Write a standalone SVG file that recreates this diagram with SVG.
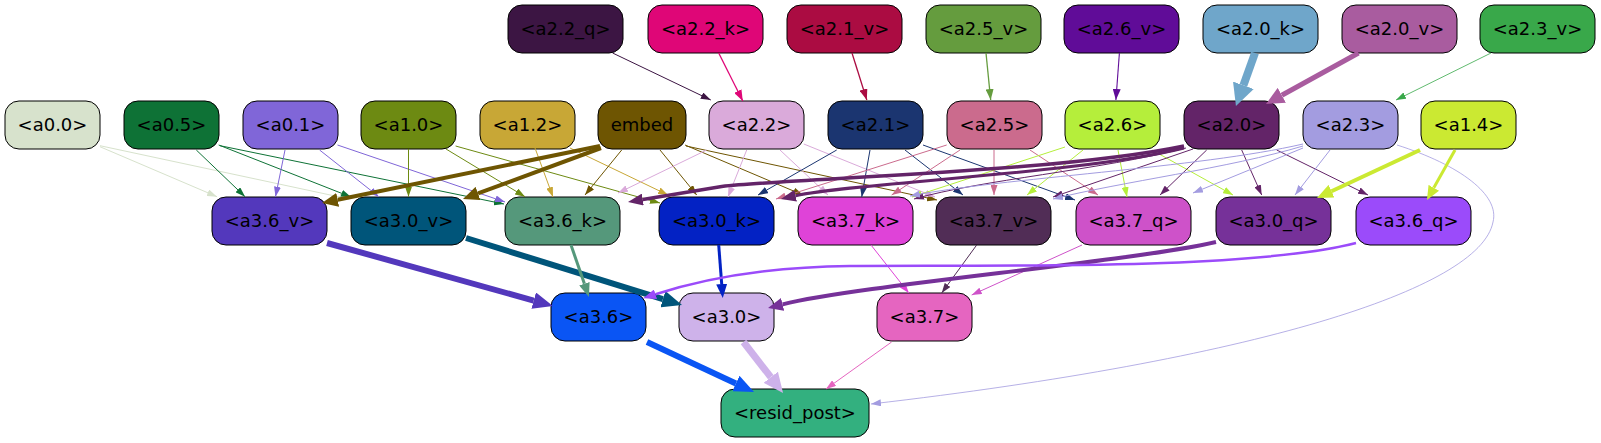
<svg xmlns="http://www.w3.org/2000/svg" width="1601" height="443" viewBox="0 0 1601 443">
<style>
.n rect{stroke:#000;stroke-width:1}
.n text{font-family:"DejaVu Sans","Liberation Sans",sans-serif;font-size:18px;text-anchor:middle;fill:#000}
#edges path{fill:none}
</style>
<defs>
<marker id="t-q22" viewBox="0 0 10 10" preserveAspectRatio="none" refX="10" refY="5" markerWidth="10" markerHeight="7" markerUnits="userSpaceOnUse" orient="auto"><path d="M0,0L10,5L0,10z" fill="#3c1543"/></marker>
<marker id="t-k22" viewBox="0 0 10 10" preserveAspectRatio="none" refX="10" refY="5" markerWidth="11" markerHeight="8" markerUnits="userSpaceOnUse" orient="auto"><path d="M0,0L10,5L0,10z" fill="#df0677"/></marker>
<marker id="t-v21" viewBox="0 0 10 10" preserveAspectRatio="none" refX="10" refY="5" markerWidth="11" markerHeight="8" markerUnits="userSpaceOnUse" orient="auto"><path d="M0,0L10,5L0,10z" fill="#ab0c42"/></marker>
<marker id="t-v25" viewBox="0 0 10 10" preserveAspectRatio="none" refX="10" refY="5" markerWidth="11" markerHeight="8" markerUnits="userSpaceOnUse" orient="auto"><path d="M0,0L10,5L0,10z" fill="#659c3e"/></marker>
<marker id="t-v26" viewBox="0 0 10 10" preserveAspectRatio="none" refX="10" refY="5" markerWidth="11" markerHeight="8" markerUnits="userSpaceOnUse" orient="auto"><path d="M0,0L10,5L0,10z" fill="#600c98"/></marker>
<marker id="t-v23" viewBox="0 0 10 10" preserveAspectRatio="none" refX="10" refY="5" markerWidth="10" markerHeight="7" markerUnits="userSpaceOnUse" orient="auto"><path d="M0,0L10,5L0,10z" fill="#39a84a"/></marker>
<marker id="t-00" viewBox="0 0 10 10" preserveAspectRatio="none" refX="10" refY="5" markerWidth="10" markerHeight="7" markerUnits="userSpaceOnUse" orient="auto"><path d="M0,0L10,5L0,10z" fill="#d7e2cc"/></marker>
<marker id="t-05" viewBox="0 0 10 10" preserveAspectRatio="none" refX="10" refY="5" markerWidth="10" markerHeight="7" markerUnits="userSpaceOnUse" orient="auto"><path d="M0,0L10,5L0,10z" fill="#0e7236"/></marker>
<marker id="t-01" viewBox="0 0 10 10" preserveAspectRatio="none" refX="10" refY="5" markerWidth="10" markerHeight="7" markerUnits="userSpaceOnUse" orient="auto"><path d="M0,0L10,5L0,10z" fill="#8066d8"/></marker>
<marker id="t-10" viewBox="0 0 10 10" preserveAspectRatio="none" refX="10" refY="5" markerWidth="10" markerHeight="7" markerUnits="userSpaceOnUse" orient="auto"><path d="M0,0L10,5L0,10z" fill="#6d8a12"/></marker>
<marker id="t-12" viewBox="0 0 10 10" preserveAspectRatio="none" refX="10" refY="5" markerWidth="10" markerHeight="7" markerUnits="userSpaceOnUse" orient="auto"><path d="M0,0L10,5L0,10z" fill="#c8a736"/></marker>
<marker id="t-emb" viewBox="0 0 10 10" preserveAspectRatio="none" refX="10" refY="5" markerWidth="10" markerHeight="7" markerUnits="userSpaceOnUse" orient="auto"><path d="M0,0L10,5L0,10z" fill="#6e5502"/></marker>
<marker id="t-22" viewBox="0 0 10 10" preserveAspectRatio="none" refX="10" refY="5" markerWidth="10" markerHeight="7" markerUnits="userSpaceOnUse" orient="auto"><path d="M0,0L10,5L0,10z" fill="#daaada"/></marker>
<marker id="t-21" viewBox="0 0 10 10" preserveAspectRatio="none" refX="10" refY="5" markerWidth="10" markerHeight="7" markerUnits="userSpaceOnUse" orient="auto"><path d="M0,0L10,5L0,10z" fill="#1b3570"/></marker>
<marker id="t-25" viewBox="0 0 10 10" preserveAspectRatio="none" refX="10" refY="5" markerWidth="10" markerHeight="7" markerUnits="userSpaceOnUse" orient="auto"><path d="M0,0L10,5L0,10z" fill="#cb6b8d"/></marker>
<marker id="t-26" viewBox="0 0 10 10" preserveAspectRatio="none" refX="10" refY="5" markerWidth="10" markerHeight="7" markerUnits="userSpaceOnUse" orient="auto"><path d="M0,0L10,5L0,10z" fill="#b5ee3b"/></marker>
<marker id="t-20" viewBox="0 0 10 10" preserveAspectRatio="none" refX="10" refY="5" markerWidth="10" markerHeight="7" markerUnits="userSpaceOnUse" orient="auto"><path d="M0,0L10,5L0,10z" fill="#632468"/></marker>
<marker id="t-23" viewBox="0 0 10 10" preserveAspectRatio="none" refX="10" refY="5" markerWidth="10" markerHeight="7" markerUnits="userSpaceOnUse" orient="auto"><path d="M0,0L10,5L0,10z" fill="#a39ce0"/></marker>
<marker id="t-37k" viewBox="0 0 10 10" preserveAspectRatio="none" refX="10" refY="5" markerWidth="10" markerHeight="7" markerUnits="userSpaceOnUse" orient="auto"><path d="M0,0L10,5L0,10z" fill="#df43d8"/></marker>
<marker id="t-37v" viewBox="0 0 10 10" preserveAspectRatio="none" refX="10" refY="5" markerWidth="10" markerHeight="7" markerUnits="userSpaceOnUse" orient="auto"><path d="M0,0L10,5L0,10z" fill="#512d56"/></marker>
<marker id="t-37q" viewBox="0 0 10 10" preserveAspectRatio="none" refX="10" refY="5" markerWidth="10" markerHeight="7" markerUnits="userSpaceOnUse" orient="auto"><path d="M0,0L10,5L0,10z" fill="#ce52c9"/></marker>
<marker id="t-37" viewBox="0 0 10 10" preserveAspectRatio="none" refX="10" refY="5" markerWidth="10" markerHeight="7" markerUnits="userSpaceOnUse" orient="auto"><path d="M0,0L10,5L0,10z" fill="#e565c0"/></marker>
<marker id="b-k20" viewBox="0 0 10 10" preserveAspectRatio="none" refX="0" refY="5" markerWidth="22" markerHeight="22" markerUnits="userSpaceOnUse" orient="auto"><path d="M0,0L10,5L0,10z" fill="#6fa6ca"/></marker>
<marker id="b-v20" viewBox="0 0 10 10" preserveAspectRatio="none" refX="0" refY="5" markerWidth="18" markerHeight="17" markerUnits="userSpaceOnUse" orient="auto"><path d="M0,0L10,5L0,10z" fill="#a95c9f"/></marker>
<marker id="b-emb" viewBox="0 0 10 10" preserveAspectRatio="none" refX="0" refY="5" markerWidth="16" markerHeight="14" markerUnits="userSpaceOnUse" orient="auto"><path d="M0,0L10,5L0,10z" fill="#6e5502"/></marker>
<marker id="b-20" viewBox="0 0 10 10" preserveAspectRatio="none" refX="0" refY="5" markerWidth="15" markerHeight="12" markerUnits="userSpaceOnUse" orient="auto"><path d="M0,0L10,5L0,10z" fill="#632468"/></marker>
<marker id="b-14a" viewBox="0 0 10 10" preserveAspectRatio="none" refX="0" refY="5" markerWidth="16" markerHeight="14" markerUnits="userSpaceOnUse" orient="auto"><path d="M0,0L10,5L0,10z" fill="#cbe932"/></marker>
<marker id="b-14b" viewBox="0 0 10 10" preserveAspectRatio="none" refX="0" refY="5" markerWidth="14" markerHeight="12" markerUnits="userSpaceOnUse" orient="auto"><path d="M0,0L10,5L0,10z" fill="#cbe932"/></marker>
<marker id="b-36v" viewBox="0 0 10 10" preserveAspectRatio="none" refX="0" refY="5" markerWidth="20" markerHeight="17" markerUnits="userSpaceOnUse" orient="auto"><path d="M0,0L10,5L0,10z" fill="#5338bc"/></marker>
<marker id="b-30v" viewBox="0 0 10 10" preserveAspectRatio="none" refX="0" refY="5" markerWidth="20" markerHeight="17" markerUnits="userSpaceOnUse" orient="auto"><path d="M0,0L10,5L0,10z" fill="#00557a"/></marker>
<marker id="b-36k" viewBox="0 0 10 10" preserveAspectRatio="none" refX="0" refY="5" markerWidth="14" markerHeight="11" markerUnits="userSpaceOnUse" orient="auto"><path d="M0,0L10,5L0,10z" fill="#55987b"/></marker>
<marker id="b-30k" viewBox="0 0 10 10" preserveAspectRatio="none" refX="0" refY="5" markerWidth="14" markerHeight="11" markerUnits="userSpaceOnUse" orient="auto"><path d="M0,0L10,5L0,10z" fill="#0322c4"/></marker>
<marker id="b-30q" viewBox="0 0 10 10" preserveAspectRatio="none" refX="0" refY="5" markerWidth="15" markerHeight="13" markerUnits="userSpaceOnUse" orient="auto"><path d="M0,0L10,5L0,10z" fill="#763199"/></marker>
<marker id="b-36q" viewBox="0 0 10 10" preserveAspectRatio="none" refX="0" refY="5" markerWidth="13" markerHeight="10" markerUnits="userSpaceOnUse" orient="auto"><path d="M0,0L10,5L0,10z" fill="#9b4bfa"/></marker>
<marker id="b-36" viewBox="0 0 10 10" preserveAspectRatio="none" refX="0" refY="5" markerWidth="20" markerHeight="17" markerUnits="userSpaceOnUse" orient="auto"><path d="M0,0L10,5L0,10z" fill="#0a55f4"/></marker>
<marker id="b-30" viewBox="0 0 10 10" preserveAspectRatio="none" refX="0" refY="5" markerWidth="20" markerHeight="18" markerUnits="userSpaceOnUse" orient="auto"><path d="M0,0L10,5L0,10z" fill="#ceb2ea"/></marker>
</defs>
<g id="nodes">
<g id="a2_2_q" class="n"><rect x="508" y="5" width="115" height="48" rx="14" fill="#3c1543"/><text x="565.5" y="35">&lt;a2.2_q&gt;</text></g>
<g id="a2_2_k" class="n"><rect x="648" y="5" width="115" height="48" rx="14" fill="#df0677"/><text x="705.5" y="35">&lt;a2.2_k&gt;</text></g>
<g id="a2_1_v" class="n"><rect x="787" y="5" width="115" height="48" rx="14" fill="#ab0c42"/><text x="844.5" y="35">&lt;a2.1_v&gt;</text></g>
<g id="a2_5_v" class="n"><rect x="926" y="5" width="115" height="48" rx="14" fill="#659c3e"/><text x="983.5" y="35">&lt;a2.5_v&gt;</text></g>
<g id="a2_6_v" class="n"><rect x="1064" y="5" width="115" height="48" rx="14" fill="#600c98"/><text x="1121.5" y="35">&lt;a2.6_v&gt;</text></g>
<g id="a2_0_k" class="n"><rect x="1203" y="5" width="115" height="48" rx="14" fill="#6fa6ca"/><text x="1260.5" y="35">&lt;a2.0_k&gt;</text></g>
<g id="a2_0_v" class="n"><rect x="1342" y="5" width="115" height="48" rx="14" fill="#a95c9f"/><text x="1399.5" y="35">&lt;a2.0_v&gt;</text></g>
<g id="a2_3_v" class="n"><rect x="1480" y="5" width="115" height="48" rx="14" fill="#39a84a"/><text x="1537.5" y="35">&lt;a2.3_v&gt;</text></g>
<g id="a0_0" class="n"><rect x="5" y="101" width="95" height="48" rx="14" fill="#d7e2cc"/><text x="52.5" y="131">&lt;a0.0&gt;</text></g>
<g id="a0_5" class="n"><rect x="124" y="101" width="95" height="48" rx="14" fill="#0e7236"/><text x="171.5" y="131">&lt;a0.5&gt;</text></g>
<g id="a0_1" class="n"><rect x="243" y="101" width="95" height="48" rx="14" fill="#8066d8"/><text x="290.5" y="131">&lt;a0.1&gt;</text></g>
<g id="a1_0" class="n"><rect x="361" y="101" width="95" height="48" rx="14" fill="#6d8a12"/><text x="408.5" y="131">&lt;a1.0&gt;</text></g>
<g id="a1_2" class="n"><rect x="480" y="101" width="95" height="48" rx="14" fill="#c8a736"/><text x="527.5" y="131">&lt;a1.2&gt;</text></g>
<g id="embed" class="n"><rect x="598" y="101" width="88" height="48" rx="14" fill="#6e5502"/><text x="642" y="131">embed</text></g>
<g id="a2_2" class="n"><rect x="709" y="101" width="95" height="48" rx="14" fill="#daaada"/><text x="756.5" y="131">&lt;a2.2&gt;</text></g>
<g id="a2_1" class="n"><rect x="828" y="101" width="95" height="48" rx="14" fill="#1b3570"/><text x="875.5" y="131">&lt;a2.1&gt;</text></g>
<g id="a2_5" class="n"><rect x="947" y="101" width="95" height="48" rx="14" fill="#cb6b8d"/><text x="994.5" y="131">&lt;a2.5&gt;</text></g>
<g id="a2_6" class="n"><rect x="1065" y="101" width="95" height="48" rx="14" fill="#b5ee3b"/><text x="1112.5" y="131">&lt;a2.6&gt;</text></g>
<g id="a2_0" class="n"><rect x="1184" y="101" width="95" height="48" rx="14" fill="#632468"/><text x="1231.5" y="131">&lt;a2.0&gt;</text></g>
<g id="a2_3" class="n"><rect x="1303" y="101" width="95" height="48" rx="14" fill="#a39ce0"/><text x="1350.5" y="131">&lt;a2.3&gt;</text></g>
<g id="a1_4" class="n"><rect x="1421" y="101" width="95" height="48" rx="14" fill="#cbe932"/><text x="1468.5" y="131">&lt;a1.4&gt;</text></g>
<g id="a3_6_v" class="n"><rect x="212" y="197" width="115" height="48" rx="14" fill="#5338bc"/><text x="269.5" y="227">&lt;a3.6_v&gt;</text></g>
<g id="a3_0_v" class="n"><rect x="351" y="197" width="115" height="48" rx="14" fill="#00557a"/><text x="408.5" y="227">&lt;a3.0_v&gt;</text></g>
<g id="a3_6_k" class="n"><rect x="505" y="197" width="115" height="48" rx="14" fill="#55987b"/><text x="562.5" y="227">&lt;a3.6_k&gt;</text></g>
<g id="a3_0_k" class="n"><rect x="659" y="197" width="115" height="48" rx="14" fill="#0322c4"/><text x="716.5" y="227">&lt;a3.0_k&gt;</text></g>
<g id="a3_7_k" class="n"><rect x="798" y="197" width="115" height="48" rx="14" fill="#df43d8"/><text x="855.5" y="227">&lt;a3.7_k&gt;</text></g>
<g id="a3_7_v" class="n"><rect x="936" y="197" width="115" height="48" rx="14" fill="#512d56"/><text x="993.5" y="227">&lt;a3.7_v&gt;</text></g>
<g id="a3_7_q" class="n"><rect x="1076" y="197" width="115" height="48" rx="14" fill="#ce52c9"/><text x="1133.5" y="227">&lt;a3.7_q&gt;</text></g>
<g id="a3_0_q" class="n"><rect x="1216" y="197" width="115" height="48" rx="14" fill="#763199"/><text x="1273.5" y="227">&lt;a3.0_q&gt;</text></g>
<g id="a3_6_q" class="n"><rect x="1356" y="197" width="115" height="48" rx="14" fill="#9b4bfa"/><text x="1413.5" y="227">&lt;a3.6_q&gt;</text></g>
<g id="a3_6" class="n"><rect x="551" y="293" width="95" height="48" rx="14" fill="#0a55f4"/><text x="598.5" y="323">&lt;a3.6&gt;</text></g>
<g id="a3_0" class="n"><rect x="679" y="293" width="95" height="48" rx="14" fill="#ceb2ea"/><text x="726.5" y="323">&lt;a3.0&gt;</text></g>
<g id="a3_7" class="n"><rect x="877" y="293" width="95" height="48" rx="14" fill="#e565c0"/><text x="924.5" y="323">&lt;a3.7&gt;</text></g>
<g id="resid_post" class="n"><rect x="721" y="389" width="148" height="48" rx="14" fill="#33b07f"/><text x="795" y="419">&lt;resid_post&gt;</text></g>
</g>
<g id="edges">
<path d="M612.6,53L710.8,100" stroke="#3c1543" marker-end="url(#t-q22)"/>
<path d="M718.7,53L742.8,101" stroke="#df0677" stroke-width="1.3" marker-end="url(#t-k22)"/>
<path d="M852,53L866.8,100" stroke="#ab0c42" stroke-width="1.3" marker-end="url(#t-v21)"/>
<path d="M986,53L990.7,100" stroke="#659c3e" stroke-width="1.3" marker-end="url(#t-v25)"/>
<path d="M1119.4,53L1115.9,100" stroke="#600c98" stroke-width="1.1" marker-end="url(#t-v26)"/>
<path d="M1255,53L1243.4,85.3" stroke="#6fa6ca" stroke-width="8" marker-end="url(#b-k20)"/>
<path d="M1358.5,53L1281.8,95.3" stroke="#a95c9f" stroke-width="5" marker-end="url(#b-v20)"/>
<path d="M1491,53L1396,100" stroke="#39a84a" stroke-width="0.8" marker-end="url(#t-v23)"/>
<path d="M99.9,146.7L217,196.7" stroke="#d7e2cc" marker-end="url(#t-00)"/>
<path d="M100,145.7L349,199" stroke="#d7e2cc" marker-end="url(#t-00)"/>
<path d="M196.3,150L245,196.7" stroke="#0e7236" marker-end="url(#t-05)"/>
<path d="M218.7,145L351,197" stroke="#0e7236" marker-end="url(#t-05)"/>
<path d="M220,145.7L504,204" stroke="#0e7236" marker-end="url(#t-05)"/>
<path d="M285,150L275.5,196.7" stroke="#8066d8" marker-end="url(#t-01)"/>
<path d="M319.6,150L378.8,196.7" stroke="#8066d8" marker-end="url(#t-01)"/>
<path d="M337.5,145L505,202" stroke="#8066d8" marker-end="url(#t-01)"/>
<path d="M408.5,149L408.5,196.7" stroke="#6d8a12" marker-end="url(#t-10)"/>
<path d="M446,149L525,196.7" stroke="#6d8a12" marker-end="url(#t-10)"/>
<path d="M455.6,146L660,203" stroke="#6d8a12" marker-end="url(#t-10)"/>
<path d="M535,148L553,197" stroke="#c8a736" marker-end="url(#t-12)"/>
<path d="M570,148L668,195" stroke="#c8a736" marker-end="url(#t-12)"/>
<path d="M600,146L337.7,199.8" stroke="#6e5502" stroke-width="4" marker-end="url(#b-emb)"/>
<path d="M601,148L478,193.4" stroke="#6e5502" stroke-width="4" marker-end="url(#b-emb)"/>
<path d="M621.7,150L585,195" stroke="#6e5502" marker-end="url(#t-emb)"/>
<path d="M660,150L696.7,195" stroke="#6e5502" marker-end="url(#t-emb)"/>
<path d="M685,145L803,195" stroke="#6e5502" marker-end="url(#t-emb)"/>
<path d="M686,146L937,200" stroke="#6e5502" marker-end="url(#t-emb)"/>
<path d="M706.7,150L618,193" stroke="#daaada" marker-end="url(#t-22)"/>
<path d="M746.7,150L728,197" stroke="#daaada" marker-end="url(#t-22)"/>
<path d="M780,150L828,195" stroke="#daaada" marker-end="url(#t-22)"/>
<path d="M803.8,144L935,197" stroke="#daaada" marker-end="url(#t-22)"/>
<path d="M836.7,150L758,195" stroke="#1b3570" marker-end="url(#t-21)"/>
<path d="M870,150L861.7,197" stroke="#1b3570" marker-end="url(#t-21)"/>
<path d="M905,150L963,195" stroke="#1b3570" marker-end="url(#t-21)"/>
<path d="M923,145L1075,200" stroke="#1b3570" marker-end="url(#t-21)"/>
<path d="M946.7,145L776,199" stroke="#cb6b8d" marker-end="url(#t-25)"/>
<path d="M960,150L891.7,195" stroke="#cb6b8d" marker-end="url(#t-25)"/>
<path d="M994,150L994,195" stroke="#cb6b8d" marker-end="url(#t-25)"/>
<path d="M1030,150L1098,195" stroke="#cb6b8d" marker-end="url(#t-25)"/>
<path d="M1065,147L912,197" stroke="#b5ee3b" marker-end="url(#t-26)"/>
<path d="M1083,150L1027,195" stroke="#b5ee3b" marker-end="url(#t-26)"/>
<path d="M1118,150L1127,197" stroke="#b5ee3b" marker-end="url(#t-26)"/>
<path d="M1152,150L1233,195" stroke="#b5ee3b" marker-end="url(#t-26)"/>
<path d="M1184,146C1060,172 800,178 721.7,186.4 L642.8,199.5" stroke="#632468" stroke-width="3.5" marker-end="url(#b-20)"/>
<path d="M1184,148C1080,174 854,182.6 795.6,195.7" stroke="#632468" stroke-width="3" marker-end="url(#b-20)"/>
<path d="M1186,148C1100,170 980,180 914,199" stroke="#632468" marker-end="url(#t-20)"/>
<path d="M1193,149L1053,197" stroke="#632468" marker-end="url(#t-20)"/>
<path d="M1206.7,150L1160,195" stroke="#632468" marker-end="url(#t-20)"/>
<path d="M1241.7,150L1261.7,195" stroke="#632468" marker-end="url(#t-20)"/>
<path d="M1276.7,150L1368,195" stroke="#632468" marker-end="url(#t-20)"/>
<path d="M1303,144C1200,168 1000,178 910,196" stroke="#a39ce0" marker-end="url(#t-23)"/>
<path d="M1303,146C1230,168 1120,182 1053,199" stroke="#a39ce0" marker-end="url(#t-23)"/>
<path d="M1303,148L1193,193" stroke="#a39ce0" marker-end="url(#t-23)"/>
<path d="M1330,150L1295,195" stroke="#a39ce0" marker-end="url(#t-23)"/>
<path d="M1397,145C1460,165 1500,195 1493,222C1480,290 1250,360 871,404" stroke="#a39ce0" stroke-width="0.8" marker-end="url(#t-23)"/>
<path d="M1420,150L1331.5,191.2" stroke="#cbe932" stroke-width="4" marker-end="url(#b-14a)"/>
<path d="M1455,150L1433.8,187.8" stroke="#cbe932" stroke-width="3" marker-end="url(#b-14b)"/>
<path d="M327,243L533.7,300.6" stroke="#5338bc" stroke-width="6" marker-end="url(#b-36v)"/>
<path d="M466,238L662.9,299.1" stroke="#00557a" stroke-width="6" marker-end="url(#b-30v)"/>
<path d="M571,245L584.4,283.8" stroke="#55987b" stroke-width="3" marker-end="url(#b-36k)"/>
<path d="M718.7,245L721.7,284" stroke="#0322c4" stroke-width="3" marker-end="url(#b-30k)"/>
<path d="M871,245L908.8,293" stroke="#df43d8" marker-end="url(#t-37k)"/>
<path d="M976.7,245L941.7,293" stroke="#512d56" marker-end="url(#t-37v)"/>
<path d="M1082,245L971.7,295" stroke="#ce52c9" marker-end="url(#t-37q)"/>
<path d="M1216,242C1130,262 860,285 782.6,304.4" stroke="#763199" stroke-width="4" marker-end="url(#b-30q)"/>
<path d="M1356,243C1250,270 1000,265 850,266C760,267 700,280 655.5,294.3" stroke="#9b4bfa" stroke-width="2.5" marker-end="url(#b-36q)"/>
<path d="M647,342L735.9,383.5" stroke="#0a55f4" stroke-width="6" marker-end="url(#b-36)"/>
<path d="M743.5,342L770.8,377.2" stroke="#ceb2ea" stroke-width="7" marker-end="url(#b-30)"/>
<path d="M891.6,342L826,389" stroke="#e565c0" marker-end="url(#t-37)"/>
</g>
</svg>
